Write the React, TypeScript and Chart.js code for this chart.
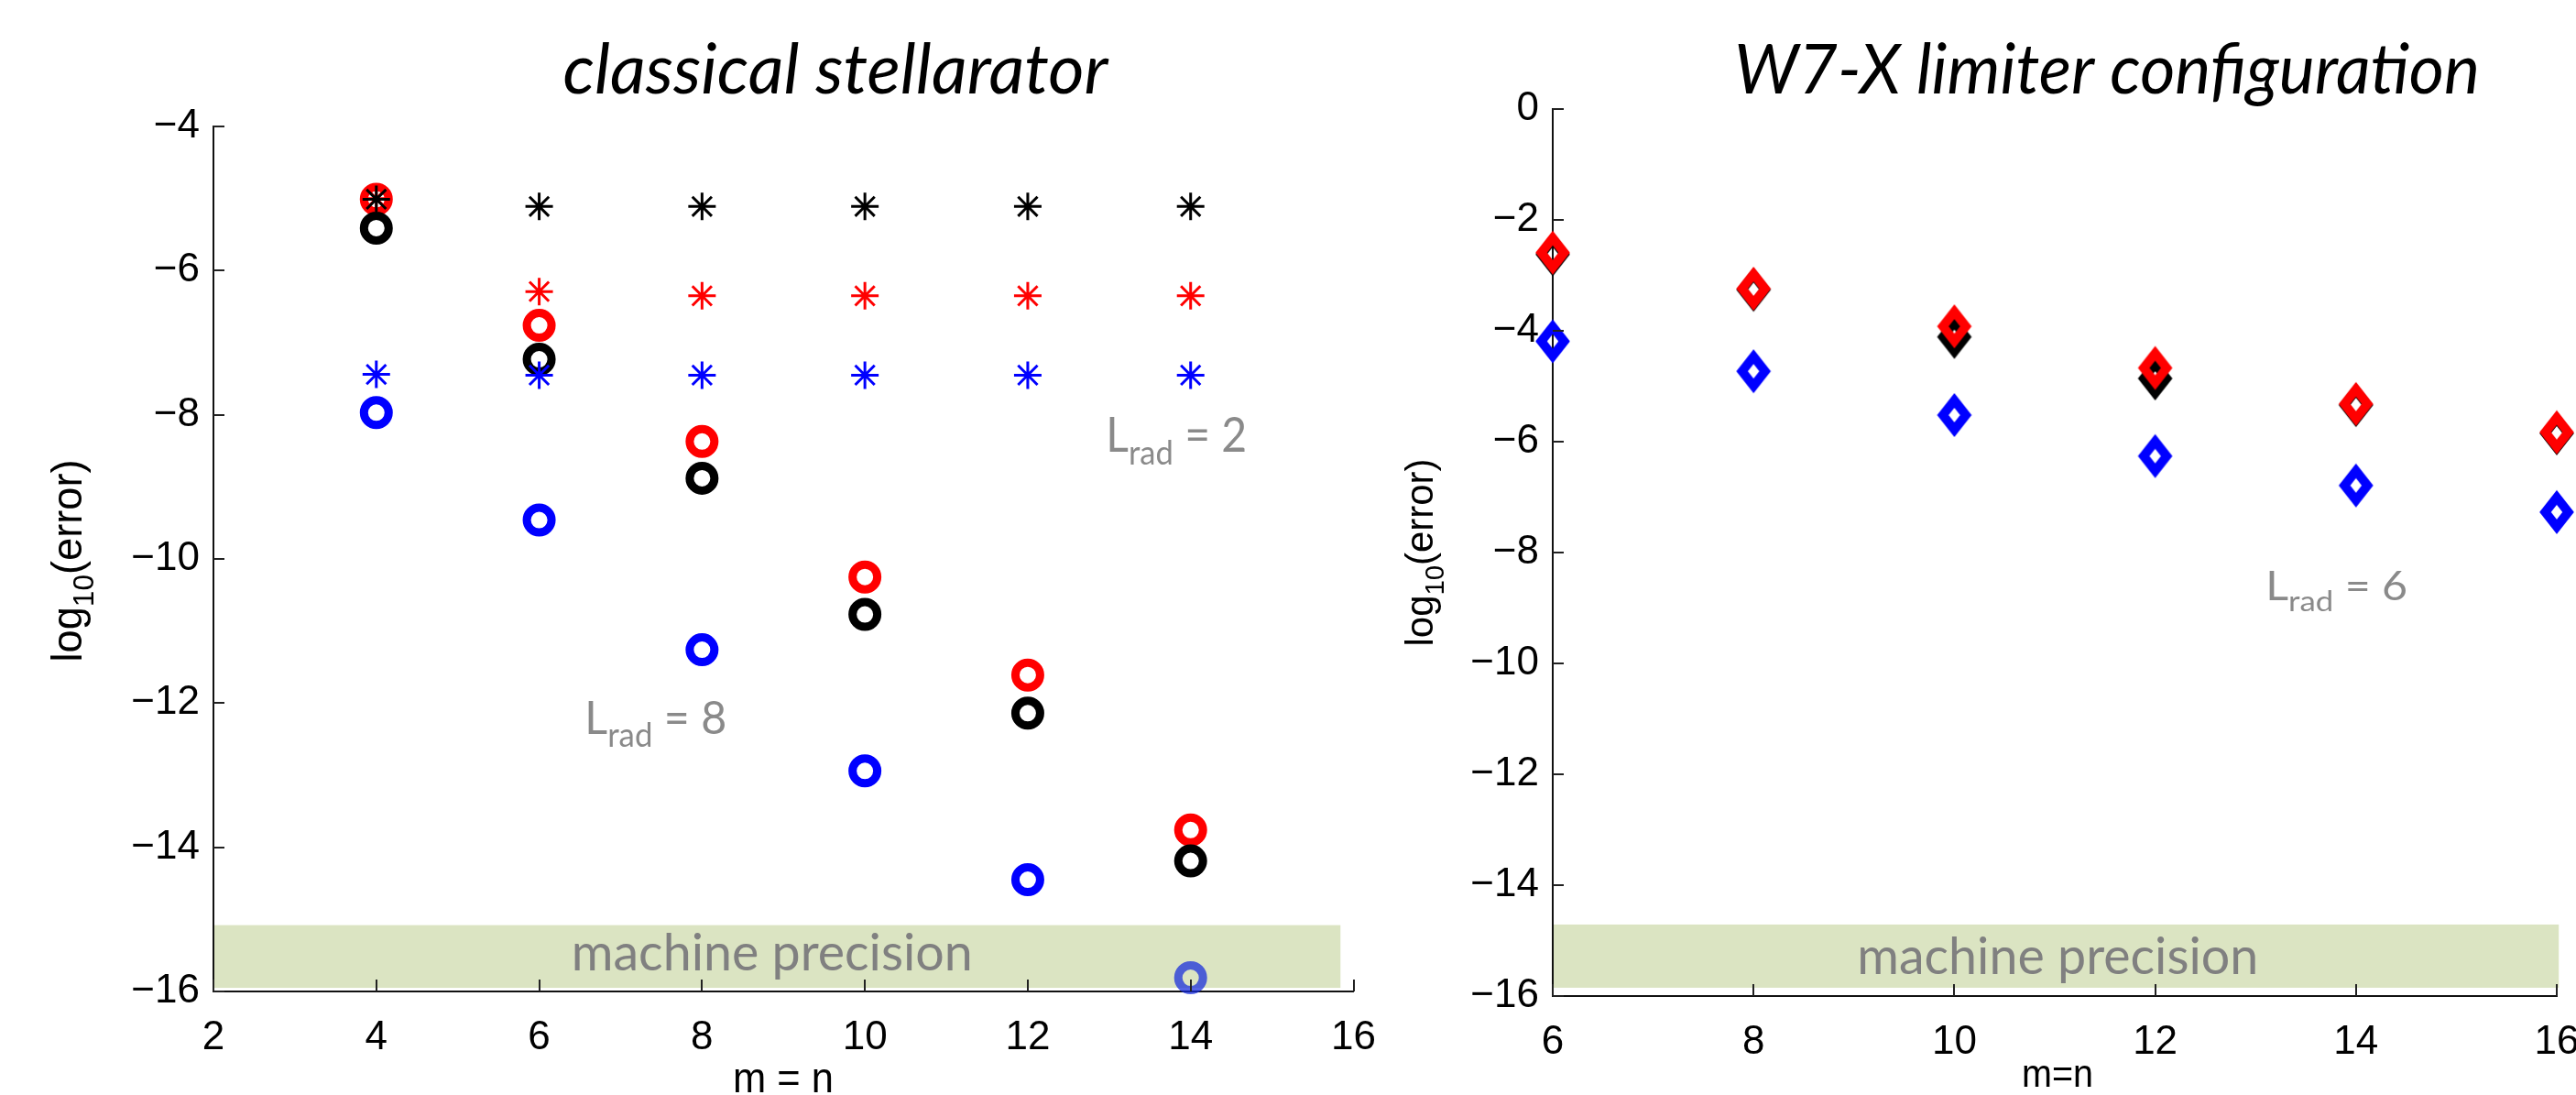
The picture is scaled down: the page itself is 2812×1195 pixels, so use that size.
import React, { useEffect, useRef } from 'react';
import { Chart, registerables } from 'chart.js';

Chart.register(...registerables);

// ---------- data: classical stellarator (left) ----------
const leftX = [4, 6, 8, 10, 12, 14];
const leftStarBlack = [-5.01, -5.11, -5.11, -5.11, -5.11, -5.11];
const leftStarRed = [-5.0, -6.29, -6.35, -6.35, -6.35, -6.35];
const leftStarBlue = [-7.44, -7.45, -7.45, -7.45, -7.45, -7.45];
const leftCircleRed = [-5.01, -6.76, -8.37, -10.25, -11.61, -13.76];
const leftCircleBlack = [-5.41, -7.23, -8.88, -10.77, -12.14, -14.19];
const leftCircleBlue = [-7.97, -9.46, -11.26, -12.94, -14.45, -15.81];
const leftXTicks = [2, 4, 6, 8, 10, 12, 14, 16];
const leftYTicks = [-16, -14, -12, -10, -8, -6, -4];

// ---------- data: W7-X limiter configuration (right) ----------
const rightX = [6, 8, 10, 12, 14, 16];
const rightDiamondRed = [-2.59, -3.24, -3.92, -4.67, -5.32, -5.83];
const rightDiamondBlack = [-2.62, -3.26, -4.11, -4.86, -5.34, -5.85];
const rightDiamondBlue = [-4.19, -4.73, -5.52, -6.26, -6.79, -7.27];
const rightXTicks = [6, 8, 10, 12, 14, 16];
const rightYTicks = [-16, -14, -12, -10, -8, -6, -4, -2, 0];

// ---------- text ----------
const leftTitle = 'classical stellarator';
const rightTitle = 'W7-X limiter configuration';
const xTitleLeft = 'm = n';
const xTitleRight = 'm=n';
const precisionLabel = 'machine precision';

const TICK_FONT = "'Liberation Sans', Arial, Helvetica, sans-serif";
const CAL_FONT = "Lato, 'Open Sans', sans-serif";

function pts(xs: number[], ys: number[]) {
  return xs.map((x, i) => ({ x, y: ys[i] }));
}

function fmtTick(v: number) {
  return v < 0 ? '\u2212' + Math.abs(v) : String(v);
}

function diamondImage(color: string) {
  const w = 50, h = 62;
  const c = document.createElement('canvas');
  c.width = w;
  c.height = h;
  const g = c.getContext('2d')!;
  const a = 12.5, b = 16;
  g.strokeStyle = color;
  g.lineWidth = 10;
  g.lineJoin = 'miter';
  g.miterLimit = 10;
  g.beginPath();
  g.moveTo(w / 2, h / 2 - b);
  g.lineTo(w / 2 + a, h / 2);
  g.lineTo(w / 2, h / 2 + b);
  g.lineTo(w / 2 - a, h / 2);
  g.closePath();
  g.stroke();
  return c;
}

// draw text stretched horizontally to a target width
function fitText(ctx: CanvasRenderingContext2D, text: string, x: number, y: number, font: string, targetW: number, align: CanvasTextAlign, color: string) {
  ctx.save();
  ctx.font = font;
  const w = ctx.measureText(text).width;
  const sx = targetW > 0 ? targetW / w : 1;
  ctx.translate(x, y);
  ctx.scale(sx, 1);
  ctx.textAlign = align;
  ctx.textBaseline = 'alphabetic';
  ctx.fillStyle = color;
  ctx.fillText(text, 0, 0);
  ctx.restore();
}

// L_rad = N label, left edge at x, baseline at y
function drawLrad(ctx: CanvasRenderingContext2D, value: string, x: number, y: number, size: number, targetW: number) {
  const parts = [
    { t: 'L', s: size, dy: 0 },
    { t: 'rad', s: size * 0.72, dy: size * 0.27 },
    { t: ' = ' + value, s: size, dy: 0 },
  ];
  ctx.save();
  let total = 0;
  const widths: number[] = [];
  for (const p of parts) {
    ctx.font = `${p.s}px ${CAL_FONT}`;
    const w = ctx.measureText(p.t).width;
    widths.push(w);
    total += w;
  }
  const sx = targetW / total;
  ctx.translate(x, y);
  ctx.scale(sx, 1);
  ctx.fillStyle = '#8a8a8a';
  ctx.textBaseline = 'alphabetic';
  ctx.textAlign = 'left';
  let cx = 0;
  parts.forEach((p, i) => {
    ctx.font = `${p.s}px ${CAL_FONT}`;
    ctx.fillText(p.t, cx, p.dy);
    cx += widths[i];
  });
  ctx.restore();
}

// rotated log10(error) label, baseline at x, centred on cy
function drawYTitle(ctx: CanvasRenderingContext2D, x: number, cy: number, size: number, len: number) {
  const parts = [
    { t: 'log', s: size, dy: 0 },
    { t: '10', s: size * 0.7, dy: size * 0.28 },
    { t: '(error)', s: size, dy: 0 },
  ];
  ctx.save();
  let total = 0;
  const widths: number[] = [];
  for (const p of parts) {
    ctx.font = `${p.s}px ${TICK_FONT}`;
    const w = ctx.measureText(p.t).width;
    widths.push(w);
    total += w;
  }
  const sx = len / total;
  ctx.translate(x, cy);
  ctx.rotate(-Math.PI / 2);
  ctx.scale(sx, 1);
  ctx.fillStyle = '#000';
  ctx.textBaseline = 'alphabetic';
  ctx.textAlign = 'left';
  let cx = -total / 2;
  parts.forEach((p, i) => {
    ctx.font = `${p.s}px ${TICK_FONT}`;
    ctx.fillText(p.t, cx, p.dy);
    cx += widths[i];
  });
  ctx.restore();
}

interface Annot {
  title: string;
  titleX: number;
  titleY: number;
  titleW: number;
  titleSize: number;
  yTitle: { x: number; cy: number; size: number; len: number };
  xTitle: { text: string; x: number; y: number; size: number; w: number };
  band: { x0: number; x1: number; y0: number; y1: number };
  mp: { x: number; y: number; size: number; w: number };
  lrads: { value: string; x: number; y: number; size: number; w: number }[];
}

function makePlugin(a: Annot) {
  return {
    id: 'annot',
    beforeDraw(chart: any) {
      const { ctx } = chart;
      const xs = chart.scales.x, ys = chart.scales.y;
      const x0 = Math.max(xs.getPixelForValue(a.band.x0), chart.chartArea.left + 1);
      const x1 = xs.getPixelForValue(a.band.x1);
      const y0 = ys.getPixelForValue(a.band.y1);
      const y1 = ys.getPixelForValue(a.band.y0);
      ctx.save();
      ctx.fillStyle = '#dbe4c2';
      ctx.fillRect(x0, y0, x1 - x0, y1 - y0);
      ctx.restore();
      fitText(ctx, precisionLabel, xs.getPixelForValue(a.mp.x), ys.getPixelForValue(a.mp.y), `${a.mp.size}px ${CAL_FONT}`, a.mp.w, 'center', '#808080');
    },
    afterDraw(chart: any) {
      const { ctx, chartArea } = chart;
      const xs = chart.scales.x, ys = chart.scales.y;
      // inside tick marks
      ctx.save();
      ctx.strokeStyle = '#222';
      ctx.lineWidth = 2;
      ctx.beginPath();
      for (const t of xs.ticks) {
        const px = Math.round(xs.getPixelForValue(t.value));
        ctx.moveTo(px, chartArea.bottom);
        ctx.lineTo(px, chartArea.bottom - 13);
      }
      for (const t of ys.ticks) {
        const py = Math.round(ys.getPixelForValue(t.value));
        ctx.moveTo(chartArea.left, py);
        ctx.lineTo(chartArea.left + 12, py);
      }
      ctx.stroke();
      ctx.restore();
      // title
      fitText(ctx, a.title, a.titleX, a.titleY, `italic ${a.titleSize}px ${CAL_FONT}`, a.titleW, 'center', '#000');
      // axis titles
      drawYTitle(ctx, a.yTitle.x, a.yTitle.cy, a.yTitle.size, a.yTitle.len);
      fitText(ctx, a.xTitle.text, a.xTitle.x, a.xTitle.y, `${a.xTitle.size}px ${TICK_FONT}`, a.xTitle.w, 'center', '#000');
      // L_rad labels
      for (const l of a.lrads) {
        drawLrad(ctx, l.value, xs.getPixelForValue(l.x), ys.getPixelForValue(l.y), l.size, l.w);
      }
    },
  };
}

function baseScales(xmin: number, xmax: number, ymin: number, ymax: number, xticks: number[], yticks: number[], yWidth: number, xHeight: number) {
  const tickFont = { family: TICK_FONT, size: 44 };
  return {
    x: {
      type: 'linear' as const,
      min: xmin,
      max: xmax,
      afterBuildTicks: (s: any) => {
        s.ticks = xticks.map((v) => ({ value: v }));
      },
      afterFit: (s: any) => {
        s.height = xHeight;
        s.paddingLeft = 0;
        s.paddingRight = 0;
      },
      grid: { display: false, drawTicks: false },
      border: { display: true, color: '#111', width: 2 },
      ticks: { font: tickFont, color: '#000', padding: 24, maxRotation: 0, autoSkip: false, callback: (v: any) => fmtTick(Number(v)) },
    },
    y: {
      type: 'linear' as const,
      min: ymin,
      max: ymax,
      afterBuildTicks: (s: any) => {
        s.ticks = yticks.map((v) => ({ value: v }));
      },
      afterFit: (s: any) => {
        s.width = yWidth;
        s.paddingTop = 0;
        s.paddingBottom = 0;
      },
      grid: { display: false, drawTicks: false },
      border: { display: true, color: '#111', width: 2 },
      ticks: { font: tickFont, color: '#000', padding: 15, autoSkip: false, callback: (v: any) => fmtTick(Number(v)) },
    },
  };
}

function starSet(ys: number[], color: string) {
  return {
    data: pts(leftX, ys),
    pointStyle: 'star',
    pointRadius: 15,
    pointBorderWidth: 3,
    pointBorderColor: color,
    pointBackgroundColor: 'rgba(0,0,0,0)',
    showLine: false,
    clip: false,
  };
}

function circleSet(ys: number[], colors: string | string[]) {
  return {
    data: pts(leftX, ys),
    pointStyle: 'circle',
    pointRadius: 13.5,
    pointBorderWidth: 9,
    pointBorderColor: colors,
    pointBackgroundColor: 'rgba(0,0,0,0)',
    showLine: false,
    clip: false,
  };
}

function diamondSet(ys: number[], color: string) {
  return {
    data: pts(rightX, ys),
    pointStyle: diamondImage(color),
    pointRadius: 20,
    showLine: false,
    clip: false,
  };
}

function leftConfig(): any {
  const annot: Annot = {
    title: leftTitle,
    titleX: 912,
    titleY: 102,
    titleW: 595,
    titleSize: 76,
    yTitle: { x: 89, cy: 612, size: 46, len: 221 },
    xTitle: { text: xTitleLeft, x: 855, y: 1192, size: 46, w: 110 },
    band: { x0: 2, x1: 15.84, y0: -15.95, y1: -15.08 },
    mp: { x: 8.86, y: -15.71, size: 56, w: 438 },
    lrads: [
      { value: '2', x: 12.96, y: -8.51, size: 52, w: 154 },
      { value: '8', x: 6.56, y: -12.43, size: 50, w: 155 },
    ],
  };
  return {
    type: 'scatter',
    data: {
      datasets: [
        starSet(leftStarBlack, '#000000'),
        starSet(leftStarRed, '#ff0000'),
        starSet(leftStarBlue, '#0000ff'),
        circleSet(leftCircleBlack, '#000000'),
        circleSet(leftCircleRed, '#ff0000'),
        circleSet(leftCircleBlue, ['#0000ff', '#0000ff', '#0000ff', '#0000ff', '#0000ff', 'rgba(20,40,220,0.72)']),
      ],
    },
    options: {
      responsive: true,
      maintainAspectRatio: false,
      animation: false,
      events: [],
      layout: { padding: { left: 0, top: 138, right: 22, bottom: 0 } },
      plugins: { legend: { display: false }, tooltip: { enabled: false }, title: { display: false } },
      scales: baseScales(2, 16, -16, -4, leftXTicks, leftYTicks, 233, 113),
    },
    plugins: [makePlugin(annot)],
  };
}

function rightConfig(): any {
  const annot: Annot = {
    title: rightTitle,
    titleX: 800,
    titleY: 102,
    titleW: 814,
    titleSize: 76,
    yTitle: { x: 64, cy: 603, size: 42, len: 205 },
    xTitle: { text: xTitleRight, x: 746, y: 1186, size: 42, w: 78 },
    band: { x0: 6, x1: 16.02, y0: -15.85, y1: -14.71 },
    mp: { x: 11.03, y: -15.6, size: 56, w: 438 },
    lrads: [{ value: '6', x: 13.1, y: -8.86, size: 44, w: 155 }],
  };
  return {
    type: 'scatter',
    data: {
      datasets: [
        diamondSet(rightDiamondRed, '#ff0000'),
        diamondSet(rightDiamondBlack, '#000000'),
        diamondSet(rightDiamondBlue, '#0000ff'),
      ],
    },
    options: {
      responsive: true,
      maintainAspectRatio: false,
      animation: false,
      events: [],
      layout: { padding: { left: 0, top: 119, right: 15, bottom: 0 } },
      plugins: { legend: { display: false }, tooltip: { enabled: false }, title: { display: false } },
      scales: baseScales(6, 16, -16, 0, rightXTicks, rightYTicks, 195, 108),
    },
    plugins: [makePlugin(annot)],
  };
}

export default function App() {
  const leftRef = useRef<HTMLCanvasElement>(null);
  const rightRef = useRef<HTMLCanvasElement>(null);

  useEffect(() => {
    const c1 = new Chart(leftRef.current!, leftConfig());
    const c2 = new Chart(rightRef.current!, rightConfig());
    let alive = true;
    if ((document as any).fonts && (document as any).fonts.ready) {
      (document as any).fonts.ready.then(() => {
        if (alive) {
          c1.update();
          c2.update();
        }
      });
    }
    return () => {
      alive = false;
      c1.destroy();
      c2.destroy();
    };
  }, []);

  return (
    <div style={{ position: 'absolute', left: 0, top: 0, width: 2812, height: 1195, background: '#fff', overflow: 'hidden' }}>
      <div style={{ position: 'absolute', left: 0, top: 0, width: 1500, height: 1195 }}>
        <canvas ref={leftRef} />
      </div>
      <div style={{ position: 'absolute', left: 1500, top: 0, width: 1312, height: 1195 }}>
        <canvas ref={rightRef} />
      </div>
    </div>
  );
}
